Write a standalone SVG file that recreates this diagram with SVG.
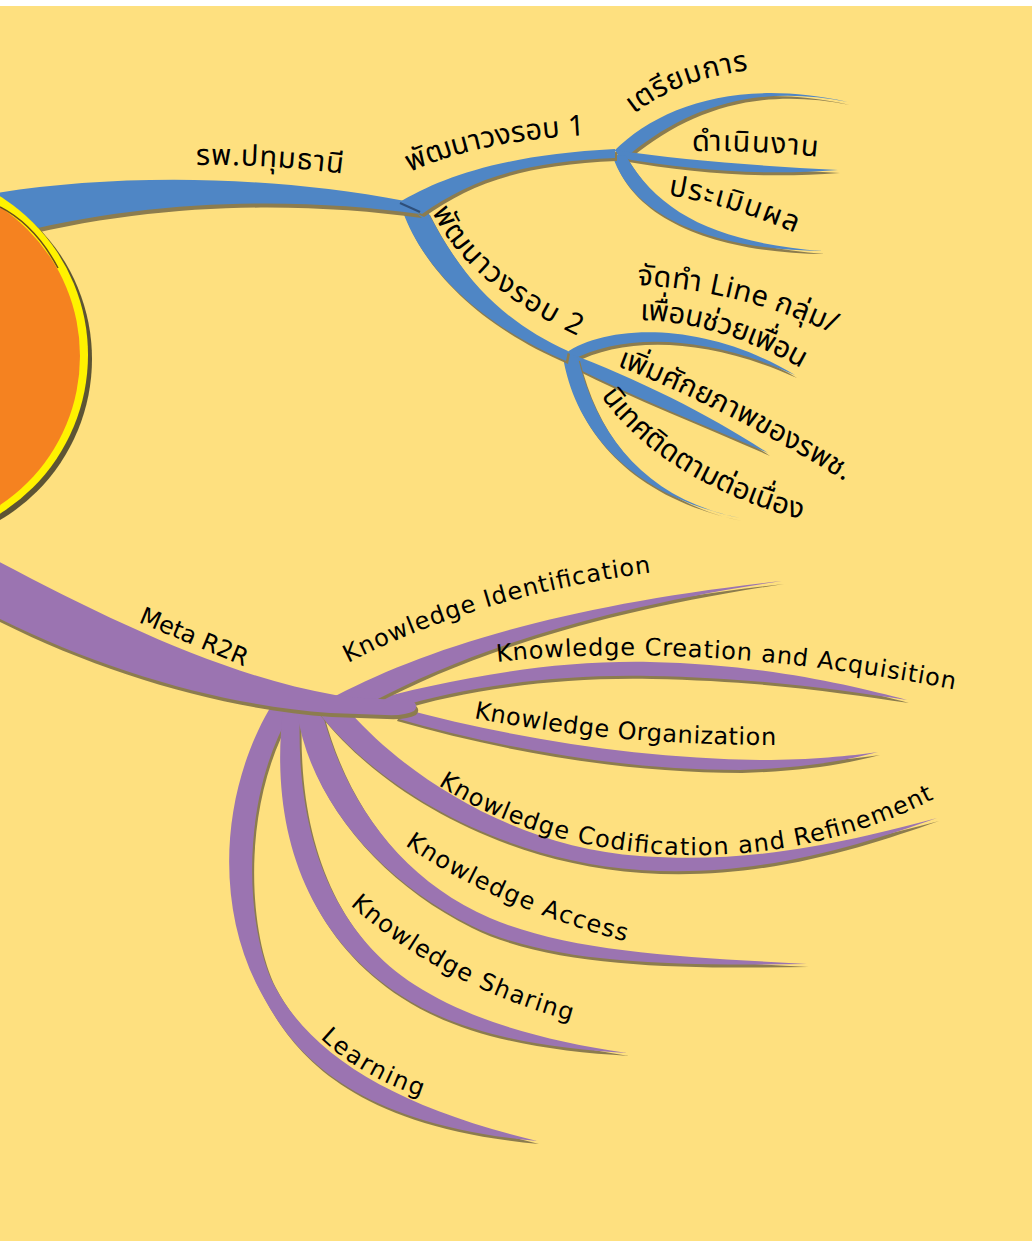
<svg xmlns="http://www.w3.org/2000/svg" xmlns:xlink="http://www.w3.org/1999/xlink" width="1032" height="1241" viewBox="0 0 1032 1241">
<style>
.blue{fill:#4F86C5}
.purple{fill:#9B74B1}
.sh{fill:#8C7C4E}
.lbl{font-family:"DejaVu Sans","Noto Sans Thai","Loma","Garuda",sans-serif;font-size:24px;fill:#000}
.th{font-family:"Noto Sans Thai","Loma","Garuda","Tlwg Typo","DejaVu Sans",sans-serif;font-size:29px;fill:#000}
</style>
<defs>
<path id="bMain" d="M-10,194 C 100,176 250,172 405,201 L 420,214 C 300,198 150,196 -10,240 Z"/>
<path id="bR1" d="M398,203 C 440,178 500,155 615,149 L 615,158 C 520,162 470,180 422,214 Z"/>
<path id="bR2" d="M403,212 C 420,260 470,320 566,361 L 568,351 C 510,325 465,285 428,212 Z"/>
<path id="bL1" d="M614,151 C 660,105 740,78 848,102 C 760,84 690,105 630,154 Z"/>
<path id="bL2" d="M615,150 C 680,160 760,166 838,170 C 760,176 690,170 620,158 Z"/>
<path id="bL3" d="M612,154 C 630,215 710,250 823,251 C 720,243 660,215 626,156 Z"/>
<path id="bL4" d="M562,356 C 600,325 700,318 795,375 C 700,332 620,335 572,360 Z"/>
<path id="bL5" d="M566,352 C 640,380 710,415 768,453 C 705,425 635,398 570,365 Z"/>
<path id="bL6" d="M563,357 C 575,430 630,495 740,518 C 650,500 598,440 578,358 Z"/>
<path id="pMain" d="M-10,557 C 100,615 220,675 335,695 C 370,700 395,699 410,700 Q 420,704 414,711 Q 405,716 385,715 L 330,713 C 220,705 100,670 -10,614 Z"/>
<path id="pL1" d="M328,700 C 420,650 560,605 782,581 C 600,608 470,650 372,702 Z"/>
<path id="pL2" d="M360,703 C 440,682 540,660 650,662 C 760,664 850,685 907,700 C 840,690 760,678 650,676 C 550,674 460,688 395,708 Z"/>
<path id="pL3" d="M400,708 C 520,740 640,758 760,760 C 810,760 850,756 878,752 C 840,762 800,768 740,770 C 620,770 500,748 395,718 Z"/>
<path id="pL4" d="M318,712 C 380,790 500,860 640,870 C 760,878 860,845 937,818 C 860,838 760,865 640,856 C 520,848 410,780 350,712 Z"/>
<path id="pL5" d="M297,712 C 310,800 380,880 470,925 C 550,965 680,966 807,964 C 680,957 570,952 490,918 C 400,879 345,800 322,712 Z"/>
<path id="pL6" d="M283,710 C 270,820 300,930 400,995 C 460,1034 540,1048 627,1053 C 540,1040 470,1020 415,985 C 330,930 295,830 300,710 Z"/>
<path id="pL7" d="M270,708 C 222,790 215,900 256,983 C 283,1035 330,1122 537,1141 C 400,1108 312,1058 274,985 C 246,930 238,800 292,710 Z"/>
<path id="tMain1" d="M196,165 Q 270,164 345,174"/>
<path id="tR1" d="M410,172 Q 480,140 590,135"/>
<path id="tR2" d="M432,212 Q 468,285 578,336"/>
<path id="tL1" d="M634,114 Q 680,78 752,70"/>
<path id="tL2" d="M692,151 Q 755,150 820,157"/>
<path id="tL3" d="M668,195 Q 730,205 798,234"/>
<path id="tL4a" d="M637,285 Q 740,290 836,335"/>
<path id="tL4b" d="M640,320 Q 720,322 804,370"/>
<path id="tL5" d="M617,366 Q 720,405 848,483"/>
<path id="tL6" d="M601,396 Q 660,480 802,520"/>
<path id="tMeta" d="M138,622 L 248,668"/>
<path id="tP1" d="M348,663 Q 480,595 655,572"/>
<path id="tP2" d="M497,662 Q 700,640 957,690"/>
<path id="tP3" d="M474,718 Q 610,745 778,745"/>
<path id="tP4" d="M438,785 Q 540,850 680,855 Q 820,858 938,797"/>
<path id="tP5" d="M405,845 Q 490,905 628,942"/>
<path id="tP6" d="M350,905 Q 440,985 575,1022"/>
<path id="tP7" d="M320,1038 Q 362,1078 426,1098"/>
</defs>

<rect x="0" y="0" width="1032" height="1241" fill="#FFFFFF"/>
<rect x="0" y="6" width="1032" height="1235" fill="#FEE07F"/>

<g id="connectors">
  <g id="blue-branches">
    <use xlink:href="#bL1" class="sh" transform="translate(2,3)"/><use xlink:href="#bL1" class="blue"/>
    <use xlink:href="#bL2" class="sh" transform="translate(2,3)"/><use xlink:href="#bL2" class="blue"/>
    <use xlink:href="#bL3" class="sh" transform="translate(2,3)"/><use xlink:href="#bL3" class="blue"/>
    <use xlink:href="#bL4" class="sh" transform="translate(2,3)"/><use xlink:href="#bL4" class="blue"/>
    <use xlink:href="#bL5" class="sh" transform="translate(2,3)"/><use xlink:href="#bL5" class="blue"/>
    <use xlink:href="#bL6" class="sh" transform="translate(2,3)"/><use xlink:href="#bL6" class="blue"/>
    <use xlink:href="#bR2" class="sh" transform="translate(2,3)"/><use xlink:href="#bR2" class="blue"/>
    <use xlink:href="#bR1" class="sh" transform="translate(2,3)"/><use xlink:href="#bR1" class="blue"/>
    <use xlink:href="#bMain" class="sh" transform="translate(2,4)"/><use xlink:href="#bMain" class="blue"/>
    <path d="M400,203 L420,212" stroke="#2E4F7A" stroke-width="2" fill="none"/>
  </g>
  <g id="purple-branches">
    <use xlink:href="#pL7" class="sh" transform="translate(2,3)"/><use xlink:href="#pL7" class="purple"/>
    <use xlink:href="#pL6" class="sh" transform="translate(2,3)"/><use xlink:href="#pL6" class="purple"/>
    <use xlink:href="#pL5" class="sh" transform="translate(2,3)"/><use xlink:href="#pL5" class="purple"/>
    <use xlink:href="#pL4" class="sh" transform="translate(2,3)"/><use xlink:href="#pL4" class="purple"/>
    <use xlink:href="#pL3" class="sh" transform="translate(2,3)"/><use xlink:href="#pL3" class="purple"/>
    <use xlink:href="#pL2" class="sh" transform="translate(2,3)"/><use xlink:href="#pL2" class="purple"/>
    <use xlink:href="#pL1" class="sh" transform="translate(2,3)"/><use xlink:href="#pL1" class="purple"/>
    <use xlink:href="#pMain" class="sh" transform="translate(2,4)"/><use xlink:href="#pMain" class="purple"/>
  </g>
</g>

<g id="center">
  <circle cx="-95" cy="359" r="187" fill="#5D5434"/>
  <circle cx="-99" cy="355" r="187" fill="#FFF200"/>
  <circle cx="-99" cy="356" r="179" fill="#F58220"/>
  <path d="M0,207 Q 35,225 58,268" stroke="#6B4A1D" stroke-width="1.5" fill="none"/>
</g>

<g id="node-rp"><text class="th"><textPath xlink:href="#tMain1" textLength="147">รพ.ปทุมธานี</textPath></text></g>
<g id="node-round1"><text class="th"><textPath xlink:href="#tR1" textLength="180">พัฒนาวงรอบ 1</textPath></text></g>
<g id="node-round2"><text class="th"><textPath xlink:href="#tR2" textLength="195">พัฒนาวงรอบ 2</textPath></text></g>
<g id="node-prepare"><text class="th"><textPath xlink:href="#tL1" textLength="124">เตรียมการ</textPath></text></g>
<g id="node-operate"><text class="th"><textPath xlink:href="#tL2" textLength="126">ดำเนินงาน</textPath></text></g>
<g id="node-evaluate"><text class="th"><textPath xlink:href="#tL3" textLength="133">ประเมินผล</textPath></text></g>
<g id="node-line">
  <text class="th"><textPath xlink:href="#tL4a" textLength="203">จัดทำ Line กลุ่ม/</textPath></text>
  <text class="th"><textPath xlink:href="#tL4b" textLength="170">เพื่อนช่วยเพื่อน</textPath></text>
</g>
<g id="node-capacity"><text class="th"><textPath xlink:href="#tL5" textLength="256">เพิ่มศักยภาพของรพช.</textPath></text></g>
<g id="node-supervise"><text class="th"><textPath xlink:href="#tL6" textLength="240">นิเทศติดตามต่อเนื่อง</textPath></text></g>

<g id="node-meta"><text class="lbl"><textPath xlink:href="#tMeta" textLength="115">Meta R2R</textPath></text></g>
<g id="node-k1"><text class="lbl"><textPath xlink:href="#tP1" textLength="318">Knowledge Identification</textPath></text></g>
<g id="node-k2"><text class="lbl"><textPath xlink:href="#tP2" textLength="460">Knowledge Creation and Acquisition</textPath></text></g>
<g id="node-k3"><text class="lbl"><textPath xlink:href="#tP3" textLength="304">Knowledge Organization</textPath></text></g>
<g id="node-k4"><text class="lbl"><textPath xlink:href="#tP4" textLength="518">Knowledge Codification and Refinement</textPath></text></g>
<g id="node-k5"><text class="lbl"><textPath xlink:href="#tP5" textLength="242">Knowledge Access</textPath></text></g>
<g id="node-k6"><text class="lbl"><textPath xlink:href="#tP6" textLength="252">Knowledge Sharing</textPath></text></g>
<g id="node-k7"><text class="lbl"><textPath xlink:href="#tP7" textLength="118">Learning</textPath></text></g>
</svg>
